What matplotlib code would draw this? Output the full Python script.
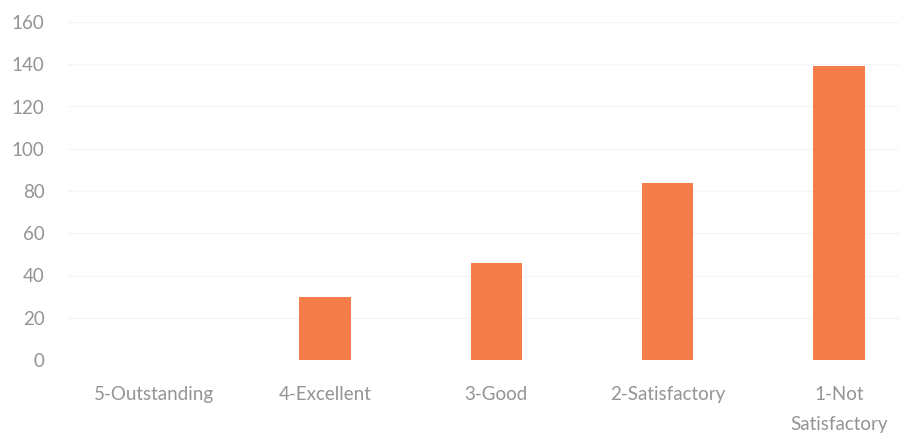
import matplotlib.pyplot as plt

categories = ['5-Outstanding', '4-Excellent', '3-Good', '2-Satisfactory', '1-Not\nSatisfactory']
counts = [0, 30, 46, 84, 139]
y_ticks = [0, 20, 40, 60, 80, 100, 120, 140, 160]

plt.rcParams['font.family'] = ['Lato', 'DejaVu Sans']

fig = plt.figure(figsize=(8.99, 4.38), dpi=100)
ax = fig.add_axes([68 / 899, 78 / 438, 1 - 68 / 899, 338 / 438])

x = range(len(categories))
ax.bar(x, counts, width=0.30, color='#F47D4A', zorder=2)

ax.set_ylim(0, 160)
ax.set_yticks(y_ticks)
ax.set_xlim(-0.5, (899 - 154) / 171.25)
ax.set_xticks(list(x))
ax.set_xticklabels(categories, linespacing=1.9)

ax.grid(axis='y', color='#f5f5f5', linewidth=1, zorder=0)
for s in ax.spines.values():
    s.set_visible(False)
ax.tick_params(axis='both', length=0, colors='#949494', labelsize=13.5)
ax.tick_params(axis='x', pad=19)
ax.tick_params(axis='y', pad=17)

fig.savefig('out.png', dpi=100)
